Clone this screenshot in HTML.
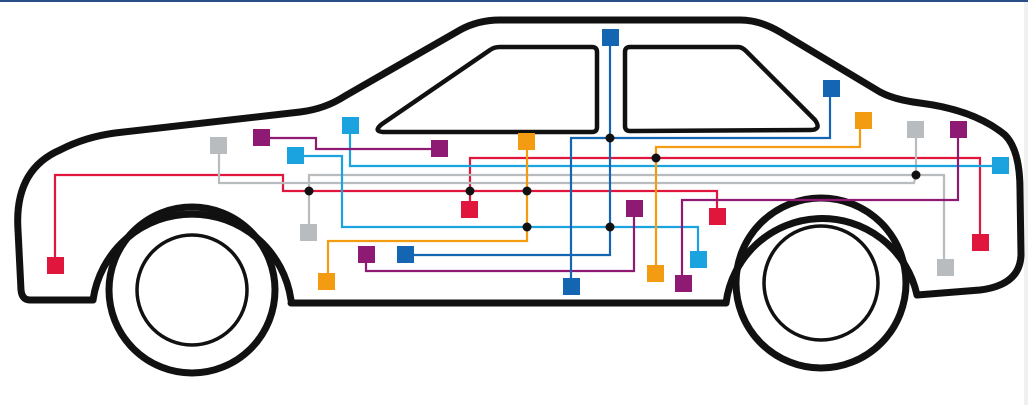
<!DOCTYPE html>
<html><head><meta charset="utf-8"><style>html,body{margin:0;padding:0;background:#fff;width:1028px;height:405px;overflow:hidden}</style></head><body>
<svg width="1028" height="405" viewBox="0 0 1028 405" xmlns="http://www.w3.org/2000/svg">
<rect x="0" y="0" width="1028" height="2" fill="#2a4f86"/>
<rect x="1024" y="2" width="4" height="403" fill="#eef0f2"/>
<g fill="none" stroke="#111" stroke-linejoin="round" stroke-linecap="round">
<path d="M93,300 L30,300 Q22,300 21,290 L18,230 Q14,170 60,150 Q85,137 115,133 L300,112 Q325,109 345,96 L460,30 Q478,20 500,20 L740,20 Q760,20 780,32 L880,92 Q895,100 920,103 Q975,110 1005,135 Q1020,150 1020,190 L1021,255 Q1020,285 980,290 L917,295" stroke-width="7"/>
<path d="M93,300 A100,100 0 0 1 291,300" stroke-width="7"/>
<path d="M726,303 A97,97 0 0 1 917,295" stroke-width="7"/>
<path d="M291,303 L726,303" stroke-width="7"/>
<path d="M385,132 Q372,132 382,124 L490,50 Q494,47 500,47 L592,47 Q597,47 597,52 L597,127 Q597,132 592,132 Z" stroke-width="4.5"/>
<path d="M630,47 L738,47 Q742,47 746,51 L815,120 Q822,130 810,130 L630,131 Q625,131 625,126 L625,52 Q625,47 630,47 Z" stroke-width="4.5"/>
<circle cx="192" cy="290" r="83" stroke-width="7"/>
<circle cx="192" cy="290" r="55" stroke-width="3.5"/>
<circle cx="821" cy="283" r="85" stroke-width="7"/>
<circle cx="821" cy="283" r="57" stroke-width="3.5"/>
</g>
<g fill="none" stroke-width="2.2">
<polyline stroke="#e0163d" points="55,265 55,175 283,175 283,191 717,191 717,216"/>
<polyline stroke="#e0163d" points="470,209 470,158 980,158 980,242"/>
<polyline stroke="#b8bcbf" points="219,146 219,183 914,183 916,175"/>
<polyline stroke="#b8bcbf" points="309,233 309,175 944,175 944,268"/>
<line stroke="#b8bcbf" x1="916" y1="130" x2="916" y2="175"/>
<polyline stroke="#1aa3df" points="350,126 350,166 1000,166"/>
<polyline stroke="#1aa3df" points="295,156 342,156 342,227 698,227 698,260"/>
<polyline stroke="#8f1a73" points="262,138 316,138 316,149 440,149"/>
<polyline stroke="#8f1a73" points="366,256 366,271 634,271 634,208"/>
<polyline stroke="#8f1a73" points="958,130 958,200 682,200 682,283"/>
<polyline stroke="#1466b3" points="406,255 610,255 610,37"/>
<polyline stroke="#1466b3" points="571,287 571,138 830,138 830,88"/>
<polyline stroke="#f39c12" points="527,142 527,241 328,241 328,281"/>
<polyline stroke="#f39c12" points="656,272 656,147 860,147 860,121"/>
</g>
<g>
<rect x="47" y="257" width="17" height="17" fill="#e0163d"/>
<rect x="461" y="201" width="17" height="17" fill="#e0163d"/>
<rect x="709" y="208" width="17" height="17" fill="#e0163d"/>
<rect x="972" y="234" width="17" height="17" fill="#e0163d"/>
<rect x="210" y="137" width="17" height="17" fill="#b8bcbf"/>
<rect x="300" y="224" width="17" height="17" fill="#b8bcbf"/>
<rect x="907" y="121" width="17" height="17" fill="#b8bcbf"/>
<rect x="937" y="259" width="17" height="17" fill="#b8bcbf"/>
<rect x="342" y="117" width="17" height="17" fill="#1aa3df"/>
<rect x="287" y="147" width="17" height="17" fill="#1aa3df"/>
<rect x="992" y="157" width="17" height="17" fill="#1aa3df"/>
<rect x="690" y="251" width="17" height="17" fill="#1aa3df"/>
<rect x="253" y="129" width="17" height="17" fill="#8f1a73"/>
<rect x="431" y="140" width="17" height="17" fill="#8f1a73"/>
<rect x="358" y="246" width="17" height="17" fill="#8f1a73"/>
<rect x="626" y="200" width="17" height="17" fill="#8f1a73"/>
<rect x="950" y="121" width="17" height="17" fill="#8f1a73"/>
<rect x="675" y="275" width="17" height="17" fill="#8f1a73"/>
<rect x="397" y="246" width="17" height="17" fill="#1466b3"/>
<rect x="602" y="29" width="17" height="17" fill="#1466b3"/>
<rect x="563" y="278" width="17" height="17" fill="#1466b3"/>
<rect x="823" y="80" width="17" height="17" fill="#1466b3"/>
<rect x="518" y="133" width="17" height="17" fill="#f39c12"/>
<rect x="318" y="273" width="17" height="17" fill="#f39c12"/>
<rect x="647" y="265" width="17" height="17" fill="#f39c12"/>
<rect x="855" y="112" width="17" height="17" fill="#f39c12"/>
</g>
<g fill="#111">
<circle cx="309" cy="191" r="4.5"/>
<circle cx="470" cy="191" r="4.5"/>
<circle cx="527" cy="191" r="4.5"/>
<circle cx="527" cy="227" r="4.5"/>
<circle cx="610" cy="227" r="4.5"/>
<circle cx="610" cy="138" r="4.5"/>
<circle cx="656" cy="158" r="4.5"/>
<circle cx="916" cy="175" r="4.5"/>
</g>
</svg>
</body></html>
